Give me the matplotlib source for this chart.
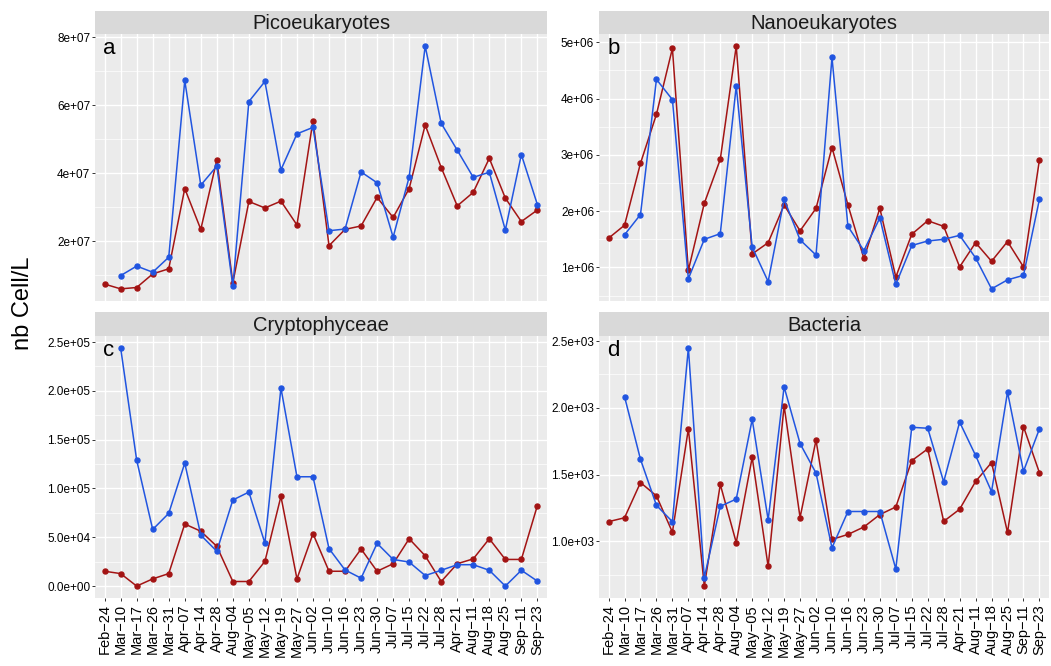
import matplotlib
matplotlib.use('Agg')
import matplotlib.pyplot as plt
import numpy as np

nan = np.nan

dates = ["Feb-24", "Mar-10", "Mar-17", "Mar-26", "Mar-31", "Apr-07", "Apr-14",
         "Apr-28", "Aug-04", "May-05", "May-12", "May-19", "May-27", "Jun-02",
         "Jun-10", "Jun-16", "Jun-23", "Jun-30", "Jul-07", "Jul-15", "Jul-22",
         "Jul-28", "Apr-21", "Aug-11", "Aug-18", "Aug-25", "Sep-11", "Sep-23"]

pico_red = [7.4e6, 6.0e6, 6.4e6, 1.04e7, 1.19e7, 3.55e7, 2.35e7, 4.39e7, 7.8e6, 3.17e7,
            2.98e7, 3.18e7, 2.48e7, 5.55e7, 1.87e7, 2.35e7, 2.45e7, 3.29e7, 2.70e7, 3.55e7,
            5.42e7, 4.17e7, 3.04e7, 3.44e7, 4.44e7, 3.27e7, 2.58e7, 2.92e7]
pico_blue = [nan, 9.9e6, 1.27e7, 1.09e7, 1.53e7, 6.73e7, 3.65e7, 4.21e7, 6.75e6, 6.11e7,
             6.70e7, 4.10e7, 5.16e7, 5.35e7, 2.31e7, 2.36e7, 4.04e7, 3.72e7, 2.12e7, 3.89e7,
             7.74e7, 5.47e7, 4.68e7, 3.88e7, 4.03e7, 2.33e7, 4.55e7, 3.08e7]

nano_red = [1.52e6, 1.75e6, 2.85e6, 3.72e6, 4.89e6, 0.95e6, 2.14e6, 2.92e6, 4.93e6, 1.24e6,
            1.44e6, 2.11e6, 1.65e6, 2.05e6, 3.13e6, 2.11e6, 1.16e6, 2.05e6, 0.83e6, 1.59e6,
            1.83e6, 1.73e6, 1.01e6, 1.44e6, 1.11e6, 1.46e6, 1.01e6, 2.91e6]
nano_blue = [nan, 1.58e6, 1.94e6, 4.34e6, 3.98e6, 0.80e6, 1.50e6, 1.60e6, 4.22e6, 1.36e6,
             0.75e6, 2.21e6, 1.49e6, 1.22e6, 4.73e6, 1.73e6, 1.30e6, 1.88e6, 0.70e6, 1.39e6,
             1.47e6, 1.50e6, 1.57e6, 1.17e6, 0.62e6, 0.78e6, 0.86e6, 2.21e6]

crypto_red = [1.52e4, 1.28e4, 0, 7.4e3, 1.28e4, 6.36e4, 5.62e4, 4.07e4, 4.7e3, 4.7e3,
              2.53e4, 9.19e4, 7.4e3, 5.37e4, 1.52e4, 1.52e4, 3.8e4, 1.52e4, 2.29e4, 4.85e4,
              3.1e4, 4.7e3, 2.29e4, 2.79e4, 4.85e4, 2.73e4, 2.73e4, 8.25e4]
crypto_blue = [nan, 2.44e5, 1.29e5, 5.8e4, 7.45e4, 1.26e5, 5.22e4, 3.57e4, 8.82e4, 9.63e4,
               4.4e4, 2.03e5, 1.12e5, 1.12e5, 3.84e4, 1.65e4, 8.1e3, 4.38e4, 2.73e4, 2.46e4,
               1.08e4, 1.62e4, 2.19e4, 2.19e4, 1.62e4, 0, 1.62e4, 5.1e3]

bact_red = [1147, 1176, 1440, 1340, 1068, 1842, 664, 1426, 990, 1629, 811, 2015, 1178, 1758,
            1014, 1051, 1107, 1200, 1257, 1604, 1692, 1149, 1240, 1448, 1590, 1066, 1859, 1514]
bact_blue = [nan, 2084, 1614, 1269, 1147, 2449, 728, 1262, 1316, 1913, 1161, 2157, 1732, 1511,
             951, 1223, 1223, 1223, 792, 1854, 1847, 1445, 1893, 1643, 1372, 2118, 1524, 1842]

titles = ["Picoeukaryotes", "Nanoeukaryotes", "Cryptophyceae", "Bacteria"]
letters = ["a", "b", "c", "d"]

pico_ticks = [2e7, 4e7, 6e7, 8e7]
pico_labels = ["2e+07", "4e+07", "6e+07", "8e+07"]
nano_ticks = [1e6, 2e6, 3e6, 4e6, 5e6]
nano_labels = ["1e+06", "2e+06", "3e+06", "4e+06", "5e+06"]
crypto_ticks = [0, 5e4, 1e5, 1.5e5, 2e5, 2.5e5]
crypto_labels = ["0.0e+00", "5.0e+04", "1.0e+05", "1.5e+05", "2.0e+05", "2.5e+05"]
bact_ticks = [1000, 1500, 2000, 2500]
bact_labels = ["1.0e+03", "1.5e+03", "2.0e+03", "2.5e+03"]

panels = [
    (pico_red, pico_blue, pico_ticks, pico_labels),
    (nano_red, nano_blue, nano_ticks, nano_labels),
    (crypto_red, crypto_blue, crypto_ticks, crypto_labels),
    (bact_red, bact_blue, bact_ticks, bact_labels),
]

plt.rcParams['font.family'] = ['Liberation Sans', 'DejaVu Sans']

W, H = 1051, 666
fig = plt.figure(figsize=(W / 100, H / 100), dpi=100)

# panel boxes in pixels: left, right, top, bottom
lefts = [95, 599, 95, 599]
rights = [547, 1049, 547, 1049]
tops = [34, 34, 336, 336]
bottoms = [301, 301, 598, 598]
strip_h = 23.5

red = '#A31414'
blue = '#2155E0'
x = np.arange(len(dates))

for i, (r, b, ticks, labels) in enumerate(panels):
    l, rr, t, bt = lefts[i], rights[i], tops[i], bottoms[i]
    ax = fig.add_axes([l / W, 1 - bt / H, (rr - l) / W, (bt - t) / H])
    sax = fig.add_axes([l / W, 1 - t / H, (rr - l) / W, strip_h / H])
    sax.set_facecolor('#D9D9D9')
    sax.set_xticks([])
    sax.set_yticks([])
    for s in sax.spines.values():
        s.set_visible(False)
    sax.text(0.5, 0.45, titles[i], ha='center', va='center', fontsize=14.5, color='#1A1A1A')

    ax.set_facecolor('#EBEBEB')
    for s in ax.spines.values():
        s.set_visible(False)

    ax.plot(x, r, color=red, lw=1.1, marker='o', ms=3.6, zorder=3)
    ax.plot(x, b, color=blue, lw=1.1, marker='o', ms=3.6, zorder=4)

    ax.set_yticks(ticks)
    ax.set_yticklabels(labels)
    step = ticks[1] - ticks[0]
    minors = [v + step / 2 for v in [ticks[0] - step] + ticks]
    ax.set_yticks(minors, minor=True)
    ax.tick_params(axis='y', which='minor', length=0)
    ax.tick_params(axis='y', which='major', length=2.5, width=0.7, color='#333333',
                   labelsize=8.5, labelcolor='black', pad=1)

    # ggplot-like 5% expansion, set after ticks so they don't widen the view
    allv = np.array(r + b, dtype=float)
    lo, hi = np.nanmin(allv), np.nanmax(allv)
    pad = 0.05 * (hi - lo)
    ax.set_ylim(lo - pad, hi + pad)

    ax.set_xticks(x)
    if i >= 2:
        ax.set_xticklabels([d.replace('-', '\u2212') for d in dates], rotation=90)
        ax.tick_params(axis='x', length=2.5, width=0.7, color='#333333',
                       labelsize=10.5, labelcolor='black', pad=2)
    else:
        ax.tick_params(axis='x', length=0, labelbottom=False)
    ax.set_xlim(-0.6, len(dates) - 0.4)

    ax.grid(which='major', color='white', lw=1.0)
    ax.grid(which='minor', axis='y', color='white', lw=0.5)
    ax.set_axisbelow(True)

    ax.text(0.018, 0.985, letters[i], transform=ax.transAxes, ha='left', va='top',
            fontsize=16, color='black')

fig.text(0.022, 0.544, 'nb Cell/L', rotation=90, ha='center', va='center', fontsize=17)

fig.savefig('out.png', dpi=100)
